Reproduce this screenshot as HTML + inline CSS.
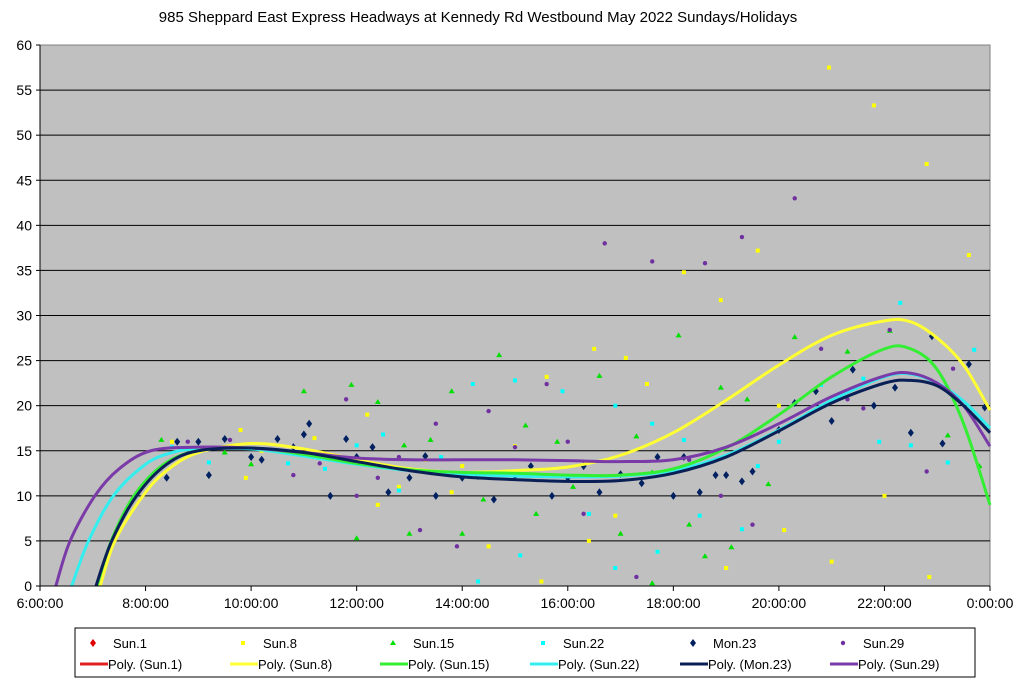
<!DOCTYPE html>
<html><head><meta charset="utf-8"><style>
body{margin:0;background:#fff;font-family:"Liberation Sans",Arial,sans-serif}
svg text{font-family:"Liberation Sans",Arial,sans-serif}
</style></head><body>
<svg id="c" width="1024" height="686">
<text x="478" y="22" text-anchor="middle" font-size="15">985 Sheppard East Express Headways at Kennedy Rd Westbound May 2022  Sundays/Holidays</text>
<rect x="40" y="45" width="950" height="541" fill="#c0c0c0" stroke="#808080"/>
<g id="grid"></g><g id="pts"></g><g id="lines"></g><g id="axes"></g>
<g id="legend"></g>
</svg>
<script>
const yTicks=[0,5,10,15,20,25,30,35,40,45,50,55,60];
const xTickLabels=["6:00:00","8:00:00","10:00:00","12:00:00","14:00:00","16:00:00","18:00:00","20:00:00","22:00:00","0:00:00"];
const xTickHours=[6,8,10,12,14,16,18,20,22,24];
const seriesNames=["Sun.1","Sun.8","Sun.15","Sun.22","Mon.23","Sun.29"];
const seriesColors=["#e00000","#ffff00","#00e000","#00ffff","#002060","#7030a0"];
const lineColors=["#e02020","#ffff33","#33ee33","#33eeee","#0a1f55","#7a3aa8"];
const sun1Pts=[];
const sun8Pts=[[8.5,16],[9.8,17.3],[9.9,12],[10.2,15],[11.2,16.4],[12.2,19],[12.4,9],[12.8,11],[13.3,14],[13.8,10.4],[14,13.3],[14.5,4.4],[15,15.5],[15.6,23.2],[15.5,0.5],[16.5,26.3],[16.9,7.8],[16.4,5],[17.1,25.3],[17.5,22.4],[17.7,3.8],[18.2,34.8],[18.9,31.7],[19,2],[19.6,37.2],[20.1,6.2],[20.95,57.5],[21,2.7],[21.8,53.3],[22,10],[22.8,46.8],[22.85,1],[23.6,36.7],[20,20]];
const sun15Pts=[[8.3,16.2],[9.5,14.8],[10,13.5],[11,21.6],[11.9,22.3],[12,5.3],[12.4,20.4],[12.9,15.6],[13,5.8],[13.4,16.2],[13.8,21.6],[14,5.8],[14.4,9.6],[14.7,25.6],[15.2,17.8],[15.4,8],[15.8,16],[16.1,11],[16.6,23.3],[17,5.8],[17.3,16.6],[17.6,12.6],[18.1,27.8],[18.3,6.8],[18.6,3.3],[18.9,22],[19.1,4.3],[19.4,20.7],[19.8,11.3],[20.3,27.6],[21.3,26],[22.1,28.3],[23.2,16.7],[23.8,13.3],[17.6,0.3]];
const sun22Pts=[[8.5,15.4],[9.2,13.7],[10.7,13.6],[11.4,13],[12,15.6],[12.5,16.8],[12.8,10.6],[13.6,14.3],[14.2,22.4],[14.3,0.5],[15,22.8],[15.1,3.4],[15.6,12.2],[15.9,21.6],[16.4,8],[16.9,20],[16.9,2],[17.6,18],[17.7,3.8],[18.2,16.2],[18.5,7.8],[19.3,6.3],[19.6,13.3],[20,16],[20.8,22.3],[21.6,23],[21.9,16],[22.3,31.4],[22.5,15.6],[23.2,13.7],[23.7,26.2]];
const mon23Pts=[[8.4,12],[8.6,16],[9,16],[9.2,12.3],[9.5,16.3],[10,14.3],[10.2,14],[10.5,16.3],[10.8,15.4],[11,16.8],[11.1,18],[11.5,10],[11.8,16.3],[12,14.3],[12.3,15.4],[12.6,10.4],[13,12],[13.3,14.4],[13.5,10],[14,12],[14.3,12.2],[14.6,9.6],[15,12.2],[15.3,13.3],[15.7,10],[16,12],[16.3,13.3],[16.6,10.4],[17,12.4],[17.4,11.4],[17.7,14.3],[18,10],[18.2,14.3],[18.5,10.4],[18.8,12.3],[19,12.3],[19.3,11.6],[19.5,12.7],[20,17.3],[20.3,20.3],[20.7,21.6],[21,18.3],[21.4,24],[21.8,20],[22.2,22],[22.5,17],[22.9,27.7],[23.1,15.8],[23.6,24.6],[23.9,19.8]];
const sun29Pts=[[8.8,16],[9.6,16.2],[10.8,12.3],[11.3,13.6],[11.8,20.7],[12,10],[12.4,12],[12.8,14.3],[13.2,6.2],[13.5,18],[13.9,4.4],[14.5,19.4],[15,15.4],[15.6,22.4],[16,16],[16.3,8],[16.7,38],[17.3,1],[17.6,36],[18.3,14],[18.6,35.8],[18.9,10],[19.3,38.7],[19.5,6.8],[20.3,43],[20.8,26.3],[21.3,20.7],[21.6,19.7],[22.1,28.4],[22.8,12.7],[23.3,24.1],[23.7,18.7]];
const trendHours=[9,10,11,12,13,14,15,16,17,18,19,20,21,22,22.5,23,23.5,24];
const sun8Trend=[14.8,15.8,15.2,14,13,12.6,12.8,13.2,14.5,17,20.6,24.5,27.8,29.4,29.3,27.5,24.5,19.5];
const sun15Trend=[15,15.3,14.6,13.6,12.9,12.6,12.5,12.3,12.3,13,15.3,19,23.2,26.3,26.3,24,18,9];
const sun22Trend=[15.2,15.2,14.4,13.5,12.8,12.4,12.2,12.1,12.2,12.8,14.5,17.3,20.6,23.2,23.5,22.5,20.5,17.5];
const mon23Trend=[15,15.3,14.8,13.8,12.8,12.1,11.8,11.6,11.7,12.5,14.3,17.2,20.3,22.5,22.8,22.2,20,17];
const sun29Trend=[15.4,15.3,14.8,14.2,14,14,14,13.9,13.8,14,15.4,18,21,23.3,23.6,22.5,20,15.5];
const sun8Early=[[7.14,0],[7.42,5],[7.95,10],[8.4,12.8]];
const sun15Early=[[7.08,0],[7.35,5],[7.78,10],[8.35,13.5]];
const sun22Early=[[6.6,0],[6.92,5],[7.39,10],[8,13.5],[8.5,14.8]];
const mon23Early=[[7.06,0],[7.36,5],[7.83,10],[8.4,13.5]];
const sun29Early=[[6.3,0],[6.57,5],[7.04,10],[7.5,13],[8.1,15]];
const allPts=[sun1Pts,sun8Pts,sun15Pts,sun22Pts,mon23Pts,sun29Pts];
const allTrends=[null,sun8Trend,sun15Trend,sun22Trend,mon23Trend,sun29Trend];
const allEarly=[null,sun8Early,sun15Early,sun22Early,mon23Early,sun29Early];

const NS="http://www.w3.org/2000/svg";
const X=h=>40+(h-6)*950/18, Y=v=>586-v*541/60;
function mk(t,a,p){const e=document.createElementNS(NS,t);for(const k in a)e.setAttribute(k,a[k]);p.appendChild(e);return e;}
const grid=document.getElementById('grid'),axes=document.getElementById('axes');
yTicks.forEach(v=>{
 if(v>0&&v<60){const l=mk('line',{x1:40,x2:990,y1:Y(v),y2:Y(v),stroke:'#000','stroke-width':1},grid);
 
 }
 const t=mk('text',{x:32,y:Y(v)+5,'text-anchor':'end','font-size':14},axes);t.textContent=v;
 
 
 mk('line',{x1:36,x2:40,y1:Y(v),y2:Y(v),stroke:'#000'},axes);
});
xTickHours.forEach((h,i)=>{
 const t=mk('text',{x:X(h),y:608,'text-anchor':'middle','font-size':14},axes);t.textContent=xTickLabels[i];
 
 
 mk('line',{x1:X(h),x2:X(h),y1:586,y2:591,stroke:'#000'},axes);
});
mk('line',{x1:40,x2:990,y1:586,y2:586,stroke:'#000'},axes);
mk('line',{x1:40,x2:40,y1:45,y2:586,stroke:'#000'},axes);
function marker(i,x,y,p){
 const c=seriesColors[i];let e;
 if(i==2)e=mk('polygon',{points:`${x},${y-3} ${x+3},${y+2} ${x-3},${y+2}`,fill:c},p);
 else if(i==4||i==0)e=mk('polygon',{points:`${x},${y-4} ${x+3},${y} ${x},${y+4} ${x-3},${y}`,fill:c},p);
 else if(i==5)e=mk('circle',{cx:x,cy:y,r:2.2,fill:c},p);
 else e=mk('rect',{x:x-2,y:y-2,width:4,height:4,fill:c},p);
 return e;
}
const pts=document.getElementById('pts');
allPts.forEach((arr,i)=>arr.forEach(d=>{
 const e=marker(i,X(d[0]),Y(d[1]),pts);
 
 
}));
function smooth(P){let d=`M${P[0][0]},${P[0][1]}`;
 for(let i=0;i<P.length-1;i++){const p0=P[Math.max(i-1,0)],p1=P[i],p2=P[i+1],p3=P[Math.min(i+2,P.length-1)];
 d+=` C${p1[0]+(p2[0]-p0[0])/6},${p1[1]+(p2[1]-p0[1])/6} ${p2[0]-(p3[0]-p1[0])/6},${p2[1]-(p3[1]-p1[1])/6} ${p2[0]},${p2[1]}`;}
 return d;}
const lines=document.getElementById('lines');
[1,3,2,5,4].forEach(i=>{
 const tr=allTrends[i];
 const P=allEarly[i].map(d=>[X(d[0]),Y(d[1])]).concat(trendHours.map((h,k)=>[X(h),Y(tr[k])]));
 const e=mk('path',{d:smooth(P),fill:'none',stroke:lineColors[i],'stroke-width':3},lines);
 
 
});
const lg=document.getElementById('legend');
mk('rect',{x:75,y:628,width:900,height:49,fill:'#fff',stroke:'#000'},lg);
seriesNames.forEach((n,i)=>{
 const bx=85+i*150;
 const m=marker(i,bx+8,643,lg);
 
 
 const t=mk('text',{x:bx+28,y:648,'font-size':13},lg);t.textContent=n;
 
 
 const l=mk('line',{x1:bx-5,x2:bx+23,y1:664,y2:664,stroke:lineColors[i],'stroke-width':3},lg);
 
 
 const t2=mk('text',{x:bx+23,y:669,'font-size':13},lg);t2.textContent='Poly. ('+n+')';
 
 
});
</script>
</body></html>
